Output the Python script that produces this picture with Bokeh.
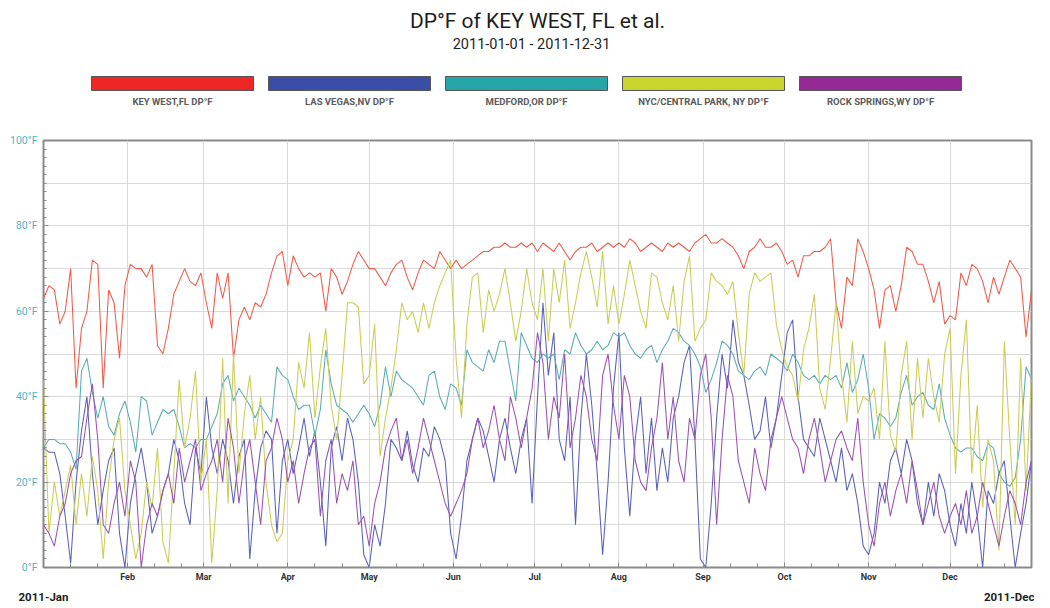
import numpy as np
from bokeh.plotting import figure
from bokeh.layouts import column
from bokeh.models import Range1d, FixedTicker, LinearAxis
from bokeh.core.properties import value
from bokeh.embed import file_html
from bokeh.resources import INLINE

# ---------------- data (dew point, deg F, every 2nd day of 2011) ----------------
series_names = ["KEY WEST,FL DP\u00b0F", "LAS VEGAS,NV DP\u00b0F", "MEDFORD,OR DP\u00b0F",
                "NYC/CENTRAL PARK, NY DP\u00b0F", "ROCK SPRINGS,WY DP\u00b0F"]
day_step = 2

key_west = [63, 66, 65, 57, 60, 70, 42, 56, 60, 72, 71, 42, 65, 62, 49, 66,
            71, 70, 70, 68, 71, 52, 50, 56, 64, 67, 70, 67, 66, 69,
            62, 56, 69, 63, 69, 49, 58, 61, 58, 62, 61, 64, 69, 73, 74,
            66, 73, 70, 68, 69, 68, 69, 60, 70, 68, 64, 67, 71, 74, 72,
            70, 70, 68, 66, 69, 71, 72, 68, 65, 69, 72, 71, 70, 74, 72, 70,
            72, 70, 71, 72, 73, 74, 74, 75, 75, 76, 75, 75, 76, 75, 76,
            74, 76, 75, 74, 76, 74, 72, 74, 75, 75, 76, 74, 75, 76, 75,
            76, 75, 77, 76, 74, 75, 76, 75, 74, 76, 75, 76, 75, 74, 76, 77,
            78, 76, 76, 77, 76, 75, 73, 70, 74, 75, 77, 75, 75, 76, 74,
            71, 72, 68, 73, 73, 74, 74, 75, 77, 62, 56, 68, 66, 77, 74,
            70, 65, 56, 65, 66, 60, 66, 75, 74, 71, 71, 67, 62, 67, 57,
            59, 58, 69, 66, 71, 70, 67, 62, 68, 64, 68, 72, 70, 68, 54, 65]

las_vegas = [28, 27, 27, 22, 12, 1, 20, 32, 40, 22, 10, 18, 25, 28, 8, 0,
             15, 22, 28, 20, 8, 12, 18, 22, 30, 25, 15, 10, 28, 22,
             40, 28, 22, 30, 25, 15, 26, 30, 2, 18, 28, 32, 30, 8, 25,
             30, 22, 28, 35, 26, 32, 20, 5, 28, 33, 25, 35, 30, 20, 3,
             0, 10, 5, 15, 30, 28, 25, 32, 24, 20, 28, 26, 33, 30, 25, 8,
             2, 12, 25, 30, 35, 32, 26, 20, 30, 35, 28, 22, 30, 35, 15,
             40, 62, 45, 55, 30, 25, 40, 10, 35, 50, 38, 22, 3, 20, 42,
             55, 28, 12, 30, 40, 22, 35, 18, 28, 20, 35, 40, 48, 52, 30, 2,
             0, 15, 35, 50, 42, 58, 48, 45, 38, 30, 32, 40, 28, 35, 45,
             55, 58, 40, 30, 28, 26, 35, 30, 25, 20, 28, 18, 22, 15, 5,
             3, 8, 20, 15, 25, 28, 22, 30, 25, 15, 10, 20, 12, 22, 18,
             10, 5, 15, 8, 20, 12, 0, 18, 15, 22, 25, 12, 0, 8, 15, 25]

medford = [28, 30, 30, 29, 29, 27, 23, 46, 49, 41, 35, 40, 33, 31, 36, 39,
           34, 27, 40, 39, 31, 34, 37, 36, 37, 33, 28, 29, 28, 30,
           30, 33, 36, 43, 45, 39, 42, 40, 38, 35, 38, 36, 34, 47, 45,
           44, 40, 37, 38, 38, 31, 37, 51, 43, 38, 37, 36, 34, 36, 38,
           36, 33, 38, 47, 40, 46, 44, 43, 42, 40, 38, 45, 46, 40, 37, 43,
           42, 38, 51, 48, 47, 46, 51, 48, 53, 53, 46, 39, 55, 52, 49,
           48, 50, 49, 50, 44, 51, 50, 55, 52, 50, 51, 53, 51, 52, 55,
           54, 55, 52, 50, 49, 51, 52, 48, 51, 53, 56, 55, 53, 52, 50, 47,
           41, 44, 48, 53, 52, 50, 46, 45, 44, 46, 47, 45, 50, 49, 48,
           46, 50, 48, 45, 44, 45, 43, 45, 44, 45, 42, 48, 41, 44, 50,
           42, 30, 36, 35, 33, 35, 41, 45, 38, 40, 41, 38, 37, 43, 35,
           31, 28, 27, 28, 28, 26, 25, 29, 28, 22, 20, 19, 21, 30, 47, 44]

nyc = [44, 8, 20, 12, 18, 24, 10, 22, 12, 26, 18, 2, 20, 30, 35, 18,
       10, 2, 8, 20, 14, 28, 6, 1, 22, 44, 28, 35, 46, 20,
       30, 1, 18, 49, 15, 50, 22, 36, 45, 30, 40, 20, 10, 6, 8,
       25, 30, 48, 42, 55, 35, 47, 56, 38, 30, 45, 62, 62, 61, 43,
       45, 57, 26, 35, 42, 51, 62, 58, 60, 55, 62, 56, 62, 66, 69, 72,
       49, 35, 57, 68, 69, 55, 65, 60, 64, 70, 62, 53, 60, 70, 62,
       58, 70, 53, 70, 62, 72, 56, 62, 69, 74, 68, 61, 74, 57, 66,
       57, 64, 72, 66, 60, 56, 69, 68, 62, 58, 66, 53, 67, 73, 53, 56,
       58, 69, 67, 66, 64, 67, 55, 45, 64, 69, 67, 68, 69, 57, 51,
       47, 45, 39, 51, 56, 64, 42, 37, 49, 62, 45, 34, 53, 36, 40,
       39, 42, 30, 53, 31, 27, 45, 53, 30, 49, 35, 49, 40, 34, 50,
       56, 22, 45, 58, 22, 38, 14, 30, 25, 4, 53, 30, 10, 49, 18, 45]

rock_springs = [10, 8, 5, 12, 15, 22, 25, 26, 35, 43, 30, 10, 8, 15, 20, 12,
                25, 20, 0, 10, 15, 12, 18, 22, 15, 28, 20, 25, 30, 18,
                22, 25, 30, 20, 35, 28, 15, 25, 30, 20, 10, 25, 28, 35, 30,
                20, 25, 15, 22, 28, 30, 12, 25, 30, 15, 22, 18, 25, 10, 12,
                5, 15, 20, 28, 32, 35, 25, 30, 22, 28, 35, 30, 25, 20, 15, 12,
                15, 18, 22, 30, 35, 28, 32, 38, 30, 25, 40, 35, 28, 35, 42,
                55, 48, 30, 40, 35, 50, 28, 35, 45, 40, 30, 25, 45, 50, 38,
                30, 45, 40, 25, 20, 18, 28, 35, 48, 30, 40, 25, 20, 35, 30, 45,
                50, 35, 10, 30, 45, 40, 25, 20, 15, 28, 22, 18, 30, 35, 40,
                35, 30, 28, 22, 30, 35, 28, 20, 25, 30, 32, 28, 25, 35, 20,
                10, 5, 15, 20, 12, 18, 22, 15, 25, 18, 10, 15, 20, 12, 8,
                12, 15, 10, 18, 8, 12, 20, 15, 10, 5, 12, 18, 15, 10, 20, 25]

month_labels = ["Jan", "Feb", "Mar", "Apr", "May", "Jun", "Jul", "Aug", "Sep", "Oct", "Nov", "Dec"]
month_lengths = [31, 28, 31, 30, 31, 30, 31, 31, 30, 31, 30, 31]
y_ticks = [0, 20, 40, 60, 80, 100]
year_labels = ["2011-Jan", "2011-Dec"]

line_colors = ["#ef5a4a", "#5861b8", "#5aabb2", "#c9cc55", "#9a52b0"]
swatch_colors = ["#ee2626", "#3a4ea8", "#26a6a6", "#c9d42c", "#952a96"]
all_series = [key_west, las_vegas, medford, nyc, rock_springs]

FONT = "Roboto"

# ---------------- header figure: title + legend (screen-pixel coordinates) ----------------
top = figure(width=1034, height=130, x_range=Range1d(43, 1031), y_range=Range1d(130, 0),
             x_axis_type=None, y_axis_type=None, toolbar_location=None,
             output_backend="svg", min_border=0, min_border_left=43, min_border_right=3)
top.grid.visible = False
top.outline_line_color = None

top.text(x=[537], y=[20], text=["DP\u00b0F of KEY WEST, FL et al."], text_align="center",
         text_baseline="middle", text_font=value(FONT), text_font_size="21px", text_color="#1e1e1e")
top.text(x=[531], y=[44], text=["2011-01-01 - 2011-12-31"], text_align="center",
         text_baseline="middle", text_font=value(FONT), text_font_size="14.5px", text_color="#1e1e1e")

cx = [172 + i * 177 for i in range(len(series_names))]
top.rect(x=cx, y=[83] * len(cx), width=162, height=14, fill_color=swatch_colors,
         line_color="#555555", line_width=1)
top.text(x=cx, y=[101] * len(cx), text=series_names, text_align="center", text_baseline="middle",
         text_font=value(FONT), text_font_size="9.5px", text_font_style="bold", text_color="#5a5a5a")

# ---------------- main plot ----------------
p = figure(frame_width=988, frame_height=427, x_range=Range1d(0, 364), y_range=Range1d(0, 100),
           toolbar_location=None, output_backend="svg",
           min_border_left=43, min_border_right=3, min_border_top=10, min_border_bottom=0)
p.outline_line_color = "#8a8a8a"
p.outline_line_width = 2

for vals, col in zip(all_series, line_colors):
    xs = list(range(0, day_step * len(vals), day_step))
    p.line(xs, vals, line_color=col, line_width=1.05)

starts = [int(s) for s in np.cumsum([0] + month_lengths[:-1])]
minor = sorted([s + 10 for s in starts] + [s + 20 for s in starts])

p.xaxis.ticker = FixedTicker(ticks=starts[1:], minor_ticks=minor)
p.xaxis.major_label_overrides = {s: m for s, m in zip(starts[1:], month_labels[1:])}
p.xaxis.axis_line_color = None
p.xaxis.major_tick_in = 5
p.xaxis.major_tick_out = 0
p.xaxis.minor_tick_in = 4
p.xaxis.minor_tick_out = 0
p.xaxis.major_tick_line_color = "#8a8a8a"
p.xaxis.minor_tick_line_color = "#8a8a8a"
p.xaxis.major_label_standoff = 4
p.xaxis.major_label_text_font = FONT
p.xaxis.major_label_text_font_size = "9px"
p.xaxis.major_label_text_font_style = "bold"
p.xaxis.major_label_text_color = "#333333"

p.yaxis.ticker = FixedTicker(ticks=y_ticks, minor_ticks=list(range(0, 101, 2)))
p.yaxis.major_label_overrides = {t: f"{t}\u00b0F" for t in y_ticks}
p.yaxis.axis_line_color = None
p.yaxis.major_tick_in = 5
p.yaxis.major_tick_out = 0
p.yaxis.minor_tick_in = 3
p.yaxis.minor_tick_out = 0
p.yaxis.major_tick_line_color = "#8a8a8a"
p.yaxis.minor_tick_line_color = "#8a8a8a"
p.yaxis.major_label_standoff = 6
p.yaxis.major_label_text_font = FONT
p.yaxis.major_label_text_font_size = "10.5px"
p.yaxis.major_label_text_color = "#55b2c8"

p.xgrid.ticker = FixedTicker(ticks=starts[1:])
p.ygrid.ticker = FixedTicker(ticks=list(range(10, 100, 10)))
p.grid.grid_line_color = "#dadada"
p.grid.grid_line_width = 1

yr = LinearAxis(ticker=FixedTicker(ticks=[0, 356]),
                major_label_overrides={0: year_labels[0], 356: year_labels[1]},
                axis_line_color=None, major_tick_line_color=None, minor_tick_line_color=None,
                major_tick_in=0, major_tick_out=0, minor_tick_in=0, minor_tick_out=0,
                major_label_standoff=5, major_label_text_font=FONT,
                major_label_text_font_size="11.5px", major_label_text_font_style="bold",
                major_label_text_color="#222222")
p.add_layout(yr, "below")

layout = column(top, p)
open("out.html", "w").write(file_html(layout, INLINE))
